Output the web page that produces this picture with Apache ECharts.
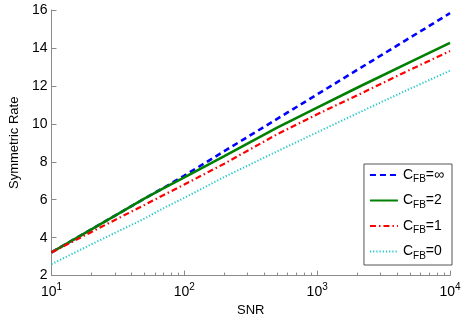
<!DOCTYPE html>
<html>
<head>
<meta charset="utf-8">
<script src="https://cdn.jsdelivr.net/npm/echarts@6/dist/echarts.min.js"></script>
<style>
  html, body { margin: 0; padding: 0; background: #fff; }
  #main { width: 464px; height: 322px; }
</style>
</head>
<body>
<div id="main"></div>
<script>
// values
const snr = [10, 20, 50, 70, 100, 200, 500, 1000, 2000, 5000, 10000]
const rateInf = [3.22, 4.44, 6.06, 6.63, 7.27, 8.56, 10.26, 11.55, 12.84, 14.54, 15.83]
const rate2 = [3.22, 4.44, 6.06, 6.61, 7.18, 8.30, 9.80, 10.85, 11.90, 13.25, 14.27]
const rate1 = [3.22, 4.30, 5.72, 6.25, 6.80, 7.90, 9.45, 10.50, 11.50, 12.85, 13.84]
const rate0 = [2.60, 3.65, 5.00, 5.56, 6.10, 7.20, 8.55, 9.55, 10.55, 11.85, 12.80]
const names = ['inf', '2', '1', '0']
const nameLabels = ['∞', '2', '1', '0']
const minorTicks = []
for (let d = 10; d < 10000; d *= 10) {
  for (let k = 2; k <= 9; k++) minorTicks.push(d * k)
}

const font = 'Liberation Sans, Arial, Helvetica, sans-serif'
const axisColor = '#8a8a8a'

function pairs (ys) {
  return snr.map((x, i) => [x, ys[i]])
}

const chart = echarts.init(document.getElementById('main'))
chart.setOption({
  backgroundColor: '#fff',
  animation: false,
  textStyle: { fontFamily: font },
  grid: { left: 42, right: 14, top: 10, bottom: 42, containLabel: false },
  legend: {
    right: 12,
    top: 164,
    orient: 'vertical',
    backgroundColor: '#fff',
    borderColor: '#555',
    borderWidth: 1,
    borderRadius: 0,
    padding: [4, 8, 4, 5],
    itemWidth: 28,
    itemHeight: 10,
    itemGap: 9,
    itemStyle: { opacity: 0 },
    data: names,
    formatter: function (n) {
      return '{c|C}{s|FB}{c|=' + nameLabels[names.indexOf(n)] + '}'
    },
    textStyle: {
      color: '#000',
      rich: {
        c: { fontSize: 14, fontFamily: font, color: '#000' },
        s: { fontSize: 10, fontFamily: font, color: '#000', padding: [9, 0, 0, 0] }
      }
    }
  },
  xAxis: [{
    type: 'log',
    logBase: 10,
    min: 10,
    max: 10000,
    name: 'SNR',
    nameLocation: 'middle',
    nameGap: 24,
    nameTextStyle: { fontSize: 13, color: '#000', fontFamily: font },
    axisLine: { lineStyle: { color: axisColor, width: 1 } },
    axisTick: { inside: true, length: 5, lineStyle: { color: axisColor } },
    splitLine: { show: false },
    axisLabel: {
      margin: 7,
      color: '#000',
      formatter: function (v) {
        return '{b|10}{e|' + Math.round(Math.log10(v)) + '}'
      },
      rich: {
        b: { fontSize: 14, fontFamily: font, color: '#000' },
        e: { fontSize: 10, fontFamily: font, color: '#000', padding: [0, 0, 9, 0] }
      }
    }
  }, {
    type: 'log',
    logBase: 10,
    min: 10,
    max: 10000,
    position: 'bottom',
    axisLine: { show: false },
    axisLabel: { show: false },
    splitLine: { show: false },
    axisTick: {
      inside: true,
      length: 3,
      customValues: minorTicks,
      lineStyle: { color: axisColor }
    }
  }],
  yAxis: {
    type: 'value',
    min: 2,
    max: 16,
    interval: 2,
    name: 'Symmetric Rate',
    nameLocation: 'middle',
    nameGap: 22,
    nameTextStyle: { fontSize: 13, color: '#000', fontFamily: font },
    axisLine: { show: true, lineStyle: { color: axisColor, width: 1 } },
    axisTick: { show: true, inside: true, length: 5, lineStyle: { color: axisColor } },
    splitLine: { show: false },
    axisLabel: { fontSize: 14, color: '#000', margin: 4, fontFamily: font }
  },
  series: [{
    name: 'inf',
    type: 'line',
    symbol: 'none',
    data: pairs(rateInf),
    z: 1,
    lineStyle: { color: '#0000ff', width: 2.6, type: [6, 4] },
    itemStyle: { color: '#0000ff' }
  }, {
    name: '2',
    type: 'line',
    symbol: 'none',
    data: pairs(rate2),
    z: 2,
    lineStyle: { color: '#008000', width: 2.6, type: 'solid' },
    itemStyle: { color: '#008000' }
  }, {
    name: '1',
    type: 'line',
    symbol: 'none',
    data: pairs(rate1),
    z: 3,
    lineStyle: { color: '#ff0000', width: 2.2, type: [6, 3, 1.5, 3] },
    itemStyle: { color: '#ff0000' }
  }, {
    name: '0',
    type: 'line',
    symbol: 'none',
    data: pairs(rate0),
    z: 4,
    lineStyle: { color: '#20c8c8', width: 2, type: [1.2, 2] },
    itemStyle: { color: '#20c8c8' }
  }]
})
</script>
</body>
</html>
